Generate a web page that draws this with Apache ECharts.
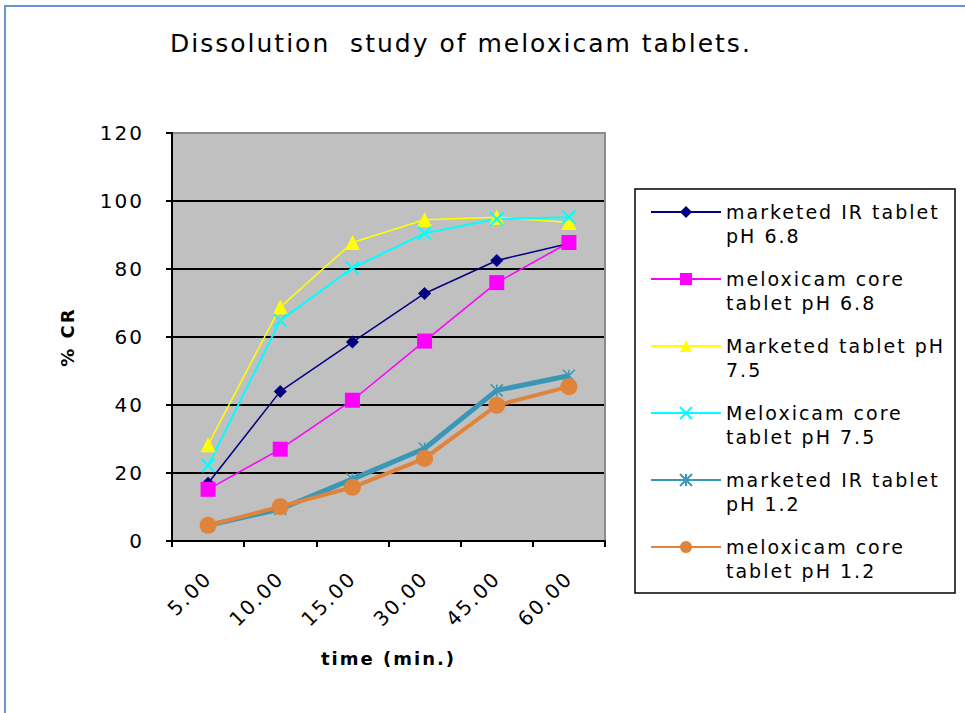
<!DOCTYPE html>
<html>
<head>
<meta charset="utf-8">
<title>Dissolution study of meloxicam tablets</title>
<script src="https://cdn.jsdelivr.net/npm/echarts@6/dist/echarts.min.js"></script>
<style>
  html, body { margin: 0; padding: 0; background: #ffffff; }
  #chart { width: 965px; height: 713px; }
  /* slightly tracked-out lettering for every chart label */
  #chart svg text { letter-spacing: 2px; }
</style>
</head>
<body>
<div id="chart"></div>
<script>
// Sampling times (min)
const timeLabels = ['5.00', '10.00', '15.00', '30.00', '45.00', '60.00'];

// Cumulative release (%) per formulation
const marketedIR_pH68 = [17.0, 44.0, 58.5, 72.8, 82.5, 87.5];
const coreTablet_pH68 = [15.2, 27.0, 41.4, 58.8, 76.0, 87.8];
const marketed_pH75 = [28.3, 68.8, 87.8, 94.5, 95.2, 93.7];
const coreTablet_pH75 = [22.2, 64.9, 80.3, 90.5, 94.7, 95.2];
const marketedIR_pH12 = [4.6, 9.4, 18.2, 27.2, 44.3, 48.6];
const coreTablet_pH12 = [4.6, 10.1, 15.8, 24.3, 39.9, 45.4];

const seriesNames = [
  'marketed IR tablet pH 6.8',
  'meloxicam core tablet pH 6.8',
  'Marketed tablet pH 7.5',
  'Meloxicam core tablet pH 7.5',
  'marketed IR tablet pH 1.2',
  'meloxicam core tablet pH 1.2'
];
const legendText = {
  'marketed IR tablet pH 6.8': 'marketed IR tablet\npH 6.8',
  'meloxicam core tablet pH 6.8': 'meloxicam core\ntablet pH 6.8',
  'Marketed tablet pH 7.5': 'Marketed tablet pH\n7.5',
  'Meloxicam core tablet pH 7.5': 'Meloxicam core\ntablet pH 7.5',
  'marketed IR tablet pH 1.2': 'marketed IR tablet\npH 1.2',
  'meloxicam core tablet pH 1.2': 'meloxicam core\ntablet pH 1.2'
};

const yTicks = { min: 0, max: 120, interval: 20 };

const FONT = '"DejaVu Sans", Verdana, sans-serif';

// x-shaped and asterisk-shaped marker paths
const crossPath = 'path://M0,0 L10,10 M10,0 L0,10';
const starPath = 'path://M0,0 L10,10 M10,0 L0,10 M5,0 L5,10';

const chart = echarts.init(document.getElementById('chart'), null, { renderer: 'svg' });

function lineSeries(name, data, color, width, symbol, size, extra) {
  return Object.assign({
    name: name,
    type: 'line',
    data: data,
    symbol: symbol,
    symbolSize: size,
    showSymbol: true,
    lineStyle: { color: color, width: width },
    itemStyle: { color: color, borderColor: color, borderWidth: 0 },
    emphasis: { disabled: true },
    animation: false,
    z: 3
  }, extra || {});
}

const option = {
  backgroundColor: '#ffffff',
  animation: false,
  title: {
    text: 'Dissolution  study of meloxicam tablets.',
    left: 170,
    top: 31,
    padding: 0,
    textStyle: { fontFamily: FONT, fontSize: 25, fontWeight: 'normal', color: '#000000' }
  },
  grid: {
    left: 172,
    top: 133,
    right: 360,
    bottom: 172,
    show: true,
    backgroundColor: '#c0c0c0',
    borderColor: '#8c8c8c',
    borderWidth: 2
  },
  legend: {
    orient: 'vertical',
    left: 650,
    top: 176,
    padding: 0,
    itemWidth: 70,
    itemHeight: 15,
    itemGap: -5,
    data: seriesNames,
    // leading blank line keeps the marker level with the first text line
    formatter: function (name) { return '\n' + legendText[name]; },
    lineStyle: { width: 2 },
    textStyle: {
      fontFamily: FONT,
      fontSize: 19,
      color: '#000000',
      lineHeight: 24
    }
  },
  xAxis: {
    type: 'category',
    data: timeLabels,
    boundaryGap: true,
    name: 'time (min.)',
    nameLocation: 'middle',
    nameGap: 108,
    nameTextStyle: { fontFamily: FONT, fontSize: 18, fontWeight: 'bold', color: '#000000' },
    axisLine: { lineStyle: { color: '#000000', width: 2 } },
    axisTick: { show: true, length: 6, inside: false, alignWithLabel: false, lineStyle: { color: '#000000', width: 2 } },
    axisLabel: {
      rotate: 45,
      margin: 34,
      fontFamily: FONT,
      fontSize: 20,
      color: '#000000'
    },
    splitLine: { show: false }
  },
  yAxis: {
    type: 'value',
    min: yTicks.min,
    max: yTicks.max,
    interval: yTicks.interval,
    name: '% CR',
    nameLocation: 'middle',
    nameGap: 96,
    nameRotate: 90,
    nameTextStyle: { fontFamily: FONT, fontSize: 18, fontWeight: 'bold', color: '#000000' },
    axisLine: { show: true, lineStyle: { color: '#000000', width: 2 } },
    axisTick: { show: true, length: 6, lineStyle: { color: '#000000', width: 2 } },
    axisLabel: { margin: 28, fontFamily: FONT, fontSize: 20, color: '#000000' },
    splitLine: { show: true, lineStyle: { color: '#000000', width: 2 } }
  },
  graphic: [
    {
      // outer frame
      type: 'rect',
      shape: { x: 5, y: 6, width: 975, height: 720 },
      style: { fill: null, stroke: '#6a94cc', lineWidth: 2 },
      silent: true,
      z: -1
    },
    {
      // legend frame
      type: 'rect',
      shape: { x: 635, y: 189, width: 320, height: 404 },
      style: { fill: null, stroke: '#000000', lineWidth: 1.5 },
      silent: true,
      z: 1
    },
    {
      // grey top/right edge of the plot area
      type: 'polyline',
      shape: { points: [[173, 133], [605, 133], [605, 540]] },
      style: { fill: null, stroke: '#8c8c8c', lineWidth: 2 },
      silent: true,
      z: 10
    }
  ],
  series: [
    lineSeries(seriesNames[4], marketedIR_pH12, '#3a97b5', 5, starPath, 12,
      { z: 2, itemStyle: { color: '#3a97b5', borderColor: '#3a97b5', borderWidth: 1.5 } }),
    lineSeries(seriesNames[5], coreTablet_pH12, '#e0843c', 4, 'circle', 17, { z: 2 }),
    lineSeries(seriesNames[0], marketedIR_pH68, '#000080', 1.5, 'diamond', 13),
    lineSeries(seriesNames[1], coreTablet_pH68, '#ff00ff', 1.5, 'rect', 15),
    lineSeries(seriesNames[2], marketed_pH75, '#ffff00', 1.5, 'triangle', 15),
    lineSeries(seriesNames[3], coreTablet_pH75, '#00ffff', 2, crossPath, 13,
      { itemStyle: { color: '#00ffff', borderColor: '#00ffff', borderWidth: 2 } })
  ]
};

chart.setOption(option);
</script>
</body>
</html>
